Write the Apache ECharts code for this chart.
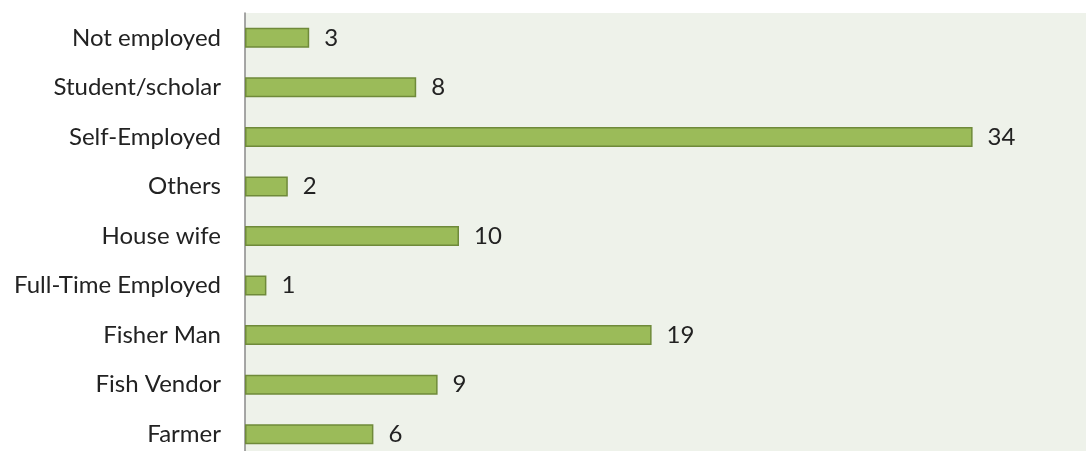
<!DOCTYPE html>
<html>
<head>
<meta charset="utf-8">
<script src="https://cdn.jsdelivr.net/npm/echarts@6/dist/echarts.min.js"></script>
<style>
  html, body { margin: 0; padding: 0; background: #fff; }
  #chart { width: 1086px; height: 451px; }
</style>
</head>
<body>
<div id="chart"></div>
<script>
// categories listed bottom to top
var categories = ['Farmer', 'Fish Vendor', 'Fisher Man', 'Full-Time Employed', 'House wife', 'Others', 'Self-Employed', 'Student/scholar', 'Not employed'];
var counts = [6, 9, 19, 1, 10, 2, 34, 8, 3];

var chart = echarts.init(document.getElementById('chart'));
var option = {
  animation: false,
  grid: {
    left: 245,
    top: 13,
    width: 856,
    height: 446,
    outerBoundsMode: 'none',
    show: true,
    backgroundColor: '#eef2ea',
    borderWidth: 0
  },
  xAxis: {
    type: 'value',
    min: 0,
    max: 40,
    show: false
  },
  yAxis: {
    type: 'category',
    data: categories,
    axisLine: { show: true, lineStyle: { color: '#8a8a8a', width: 1.5 } },
    axisTick: { show: false },
    axisLabel: {
      margin: 24,
      color: '#222',
      fontSize: 24,
      fontFamily: 'Lato, "Open Sans", sans-serif'
    }
  },
  series: [{
    type: 'bar',
    data: counts,
    barWidth: 20,
    itemStyle: {
      color: '#9bbb59',
      borderColor: '#6f8a3a',
      borderWidth: 1.5
    },
    label: {
      show: true,
      position: 'right',
      distance: 15,
      color: '#222',
      fontSize: 24,
      fontFamily: 'Lato, "Open Sans", sans-serif'
    }
  }]
};
chart.setOption(option);
</script>
</body>
</html>
